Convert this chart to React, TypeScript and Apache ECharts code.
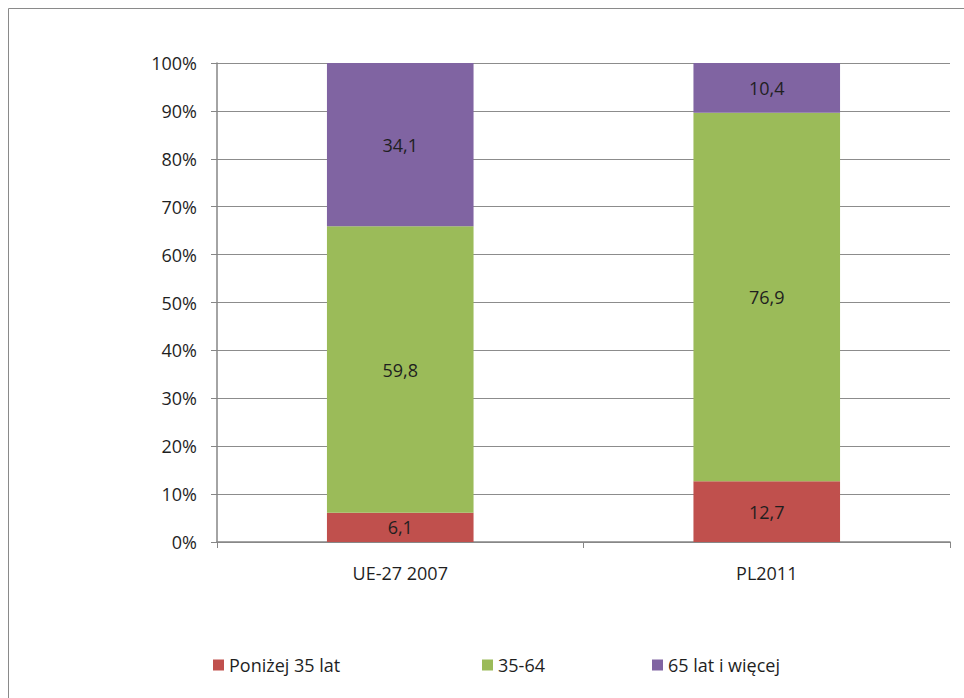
import React, { useEffect, useRef } from "react";
import * as echarts from "echarts";

const categories = ["UE-27 2007", "PL2011"];
const seriesNames = ["Poniżej 35 lat", "35-64", "65 lat i więcej"];
const under35 = [6.1, 12.7];
const age35to64 = [59.8, 76.9];
const over65 = [34.1, 10.4];
const colors = ["#C0504D", "#9BBB59", "#8064A2"];

const FONT = "'Open Sans', sans-serif";

export default function App() {
  const ref = useRef<HTMLDivElement>(null);
  useEffect(() => {
    if (!ref.current) return;
    const chart = echarts.init(ref.current, undefined, { renderer: "svg" });
    const values = [under35, age35to64, over65];
    const series = seriesNames.map((name, i) => ({
      name,
      type: "bar",
      stack: "total",
      barWidth: "40%",
      data: values[i],
      itemStyle: { color: colors[i] },
      label: {
        show: true,
        position: "inside",
        color: "#1f1f1f",
        fontFamily: FONT,
        fontSize: 18,
        formatter: (p: any) => String(p.value).replace(".", ","),
      },
    }));
    const legendLefts = [208, 477, 647];
    chart.setOption({
      animation: false,
      textStyle: { fontFamily: FONT },
      graphic: [
        {
          type: "rect",
          shape: { x: 8.5, y: 8.5, width: 1000, height: 1000 },
          style: { fill: "none", stroke: "#8a8a8a", lineWidth: 1 },
        },
      ],
      grid: { left: 217, right: 14, top: 63, bottom: 156 },
      legend: seriesNames.map((n, i) => ({
        data: [n],
        left: legendLefts[i],
        top: 651,
        itemWidth: 11,
        itemHeight: 11,
        itemGap: 5,
        icon: "rect",
        textStyle: { fontFamily: FONT, fontSize: 18, color: "#1f1f1f" },
      })),
      xAxis: {
        type: "category",
        data: categories,
        axisLine: { lineStyle: { color: "#868686", width: 1.5 } },
        axisTick: { show: true, length: 6, alignWithLabel: false, lineStyle: { color: "#868686" } },
        axisLabel: { color: "#1f1f1f", fontSize: 18, fontFamily: FONT, margin: 22 },
      },
      yAxis: {
        type: "value",
        min: 0,
        max: 100,
        interval: 10,
        axisLine: { show: true, lineStyle: { color: "#868686", width: 1.5 } },
        axisTick: { show: true, length: 6, lineStyle: { color: "#868686" } },
        axisLabel: { color: "#1f1f1f", fontSize: 18, fontFamily: FONT, margin: 20, formatter: "{value}%" },
        splitLine: { show: true, lineStyle: { color: "#8c8c8c", width: 1 } },
      },
      series,
    });
    return () => chart.dispose();
  }, []);
  return (
    <div
      ref={ref}
      style={{ position: "fixed", left: 0, top: 0, width: 964, height: 698, background: "#fff" }}
    />
  );
}
